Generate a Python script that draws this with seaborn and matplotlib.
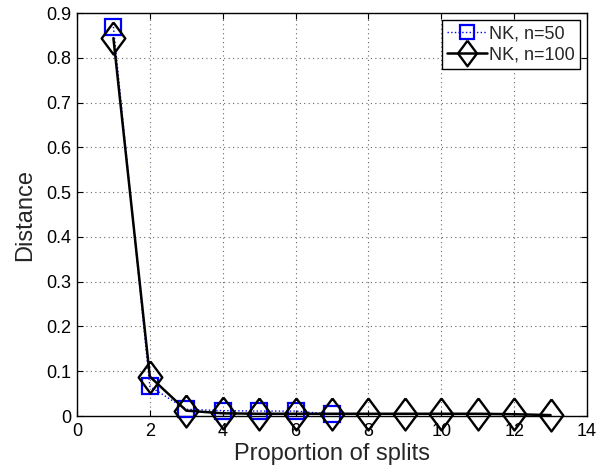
import matplotlib
matplotlib.use("Agg")
import matplotlib.pyplot as plt
import seaborn as sns
import numpy as np

sns.set_style("white")
plt.rcParams['font.family'] = ['Liberation Sans', 'DejaVu Sans']

x50 = [1, 2, 3, 4, 5, 6, 7]
y50 = [0.869, 0.066, 0.015, 0.012, 0.011, 0.011, 0.004]
x100 = [1, 2, 3, 4, 5, 6, 7, 8, 9, 10, 11, 12, 13]
y100 = [0.844, 0.088, 0.012, 0.006, 0.005, 0.005, 0.005, 0.005, 0.005, 0.005, 0.005, 0.004, 0.002]

diamond = [(0, 1), (0.74, 0), (0, -1), (-0.74, 0), (0, 1)]

fig = plt.figure(figsize=(5.99, 4.73), dpi=100)
ax = fig.add_axes([0.1285, 0.1205, 0.8515, 0.852])

sns.lineplot(x=x50, y=y50, ax=ax, color='blue', linestyle=':', linewidth=1,
             marker='s', markersize=12, markerfacecolor='none', markeredgecolor='blue',
             markeredgewidth=1.6, label='NK, n=50', clip_on=False, zorder=3)
sns.lineplot(x=x100, y=y100, ax=ax, color='black', linestyle='-', linewidth=1.8,
             marker=diamond, markersize=23, markerfacecolor='none', markeredgecolor='black',
             markeredgewidth=1.7, label='NK, n=100', clip_on=False, zorder=4)

ax.set_xlim(0, 14)
ax.set_ylim(0, 0.9)
ax.set_xticks(np.arange(0, 15, 2))
ax.set_yticks(np.round(np.arange(0, 0.91, 0.1), 1))
ax.set_xticklabels([str(v) for v in range(0, 15, 2)])
ax.set_yticklabels(['0'] + [f'{v:.1f}' for v in np.arange(0.1, 0.91, 0.1)])
ax.grid(True, linestyle=(0, (1, 3)), color='#666666', linewidth=0.8)
ax.tick_params(direction='in', length=4, labelsize=13, colors='black', top=True, right=True,
               bottom=True, left=True)
ax.tick_params(axis='x', pad=5)
ax.tick_params(axis='y', pad=4)
for s in ax.spines.values():
    s.set_color('black')
    s.set_linewidth(1)
ax.set_xlabel('Proportion of splits', fontsize=17, labelpad=2)
ax.set_ylabel('Distance', fontsize=17, labelpad=7)

leg = ax.legend(loc='upper right', fontsize=13, frameon=True, fancybox=False,
                edgecolor='black', framealpha=1, borderpad=0.3, labelspacing=0.2,
                handlelength=2.2, handletextpad=0.1, borderaxespad=0.4, markerscale=0.8)
leg.get_frame().set_linewidth(1)
leg.set_zorder(10)

fig.savefig('out.png', dpi=100)
